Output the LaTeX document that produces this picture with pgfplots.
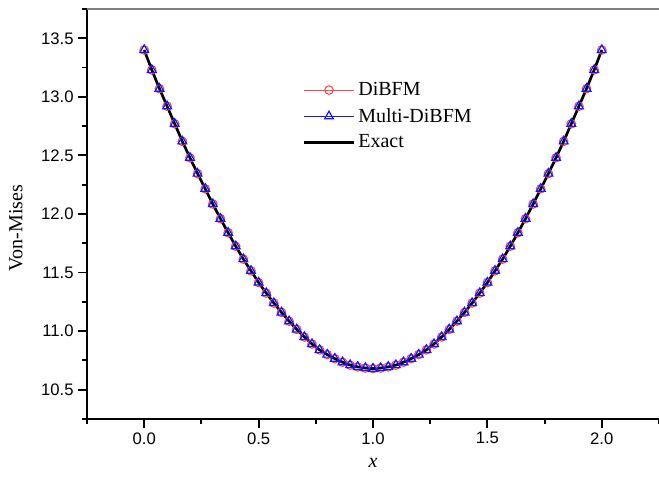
\documentclass[border=0pt]{standalone}
\usepackage{fontspec}
\setmainfont{Liberation Serif}
\newfontfamily\arial{Liberation Sans}
\usepackage{pgfplots}
\pgfplotsset{compat=1.18}
\usepackage{pgfplotstable}

\pgfplotstableread{
x y
0 13.40
0.0333 13.23
0.0667 13.07
0.1 12.92
0.1333 12.77
0.1667 12.62
0.2 12.48
0.2333 12.345
0.2667 12.215
0.3 12.085
0.3333 11.96
0.3667 11.84
0.4 11.725
0.4333 11.615
0.4667 11.515
0.5 11.415
0.5333 11.325
0.5667 11.24
0.6 11.16
0.6333 11.085
0.6667 11.015
0.7 10.95
0.7333 10.89
0.7667 10.84
0.8 10.80
0.8333 10.765
0.8667 10.735
0.9 10.71
0.9333 10.695
0.9667 10.685
1.0 10.68
1.0333 10.685
1.0667 10.695
1.1 10.71
1.1333 10.735
1.1667 10.765
1.2 10.80
1.2333 10.84
1.2667 10.89
1.3 10.95
1.3333 11.015
1.3667 11.085
1.4 11.16
1.4333 11.24
1.4667 11.325
1.5 11.415
1.5333 11.515
1.5667 11.615
1.6 11.725
1.6333 11.84
1.6667 11.96
1.7 12.085
1.7333 12.215
1.7667 12.345
1.8 12.48
1.8333 12.62
1.8667 12.77
1.9 12.92
1.9333 13.07
1.9667 13.23
2.0 13.40
}\vmdata

\definecolor{dibred}{RGB}{255,70,70}
\definecolor{dibblue}{RGB}{20,20,255}

\begin{document}
\begin{tikzpicture}
\begin{axis}[
  name=ax,
  scale only axis,
  width=429pt, height=307.5pt,
  xmin=-0.25, xmax=2.25,
  ymin=10.25, ymax=13.75,
  axis x line*=bottom,
  axis y line*=left,
  axis line style={line width=1.6pt},
  xtick={0,0.5,...,2.0},
  minor xtick={-0.25,0.25,0.75,1.25,1.75,2.25},
  ytick={10.5,11,...,13.5},
  minor ytick={10.25,10.75,...,13.75},
  tick align=outside,
  major tick length=6.5pt,
  minor tick length=3.5pt,
  every tick/.style={black, line width=1.4pt},
  tick label style={font=\arial\fontsize{12.5}{14}\selectfont},
  /pgf/number format/assume math mode=true,
  /pgf/number format/fixed,
  /pgf/number format/fixed zerofill,
  /pgf/number format/precision=1,
  xlabel={\textit{x}},
  ylabel={Von-Mises},
  label style={font=\fontsize{15}{18}\selectfont},
  xlabel style={at={(ticklabel cs:0.5)}, anchor=near ticklabel, yshift=-4pt},
  ylabel style={at={(ticklabel cs:0.466)}, anchor=near ticklabel, yshift=7pt},
  legend cell align=left,
  legend style={draw=none, fill=none, inner sep=0pt,
    at={(rel axis cs:0.376,0.828)}, anchor=north west,
    font=\fontsize{15}{18}\selectfont, row sep=4pt},
  legend image code/.code={\draw[mark repeat=2,mark phase=2,#1] plot coordinates {(0pt,0pt) (19pt,0pt) (38pt,0pt)};},
  clip=false,
]
\addplot[dibred, line width=0.6pt, mark=o, mark size=3.2pt, mark options={solid, line width=0.8pt}] table {\vmdata};
\addlegendentry{DiBFM}
\addplot[dibblue, line width=0.6pt, mark=triangle, mark size=3.8pt, mark options={solid, line width=0.9pt}] table {\vmdata};
\addlegendentry{Multi-DiBFM}
\addplot[black, line width=2pt, no marks] table {\vmdata};
\addlegendentry{Exact}
\draw[black!50, line width=2pt] (rel axis cs:0,1) -- (rel axis cs:1,1);
\end{axis}
\pgfresetboundingbox
\path (ax.south west) ++(-65.25pt,-48.75pt) coordinate (bl);
\path (ax.north east) ++(0pt,6.75pt) coordinate (tr);
\path[use as bounding box] (bl) rectangle (tr);
\end{tikzpicture}
\end{document}
